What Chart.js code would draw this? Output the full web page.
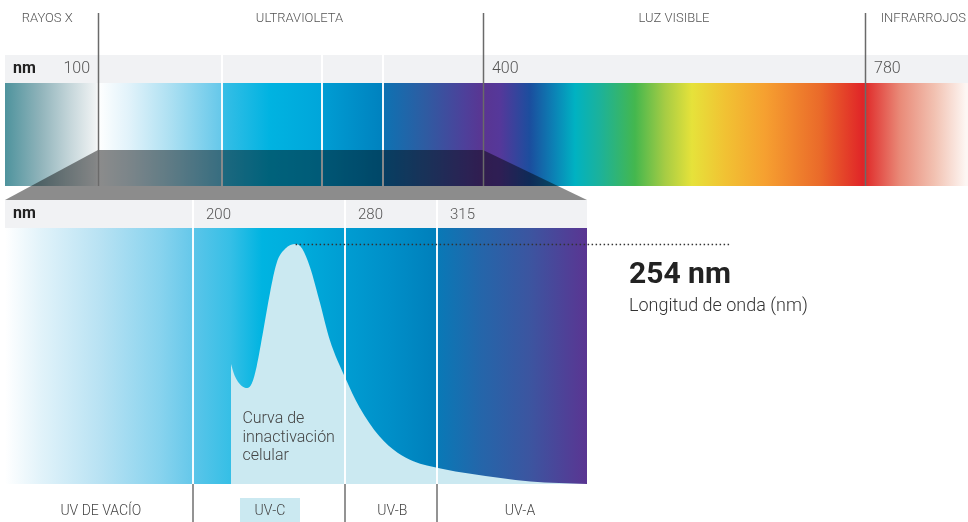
<!DOCTYPE html>
<html>
<head>
<meta charset="utf-8">
<script src="https://cdn.jsdelivr.net/npm/chart.js@4/dist/chart.umd.min.js"></script>
<style>
  html, body { margin: 0; padding: 0; background: #ffffff; }
  #wrap { width: 968px; height: 522px; position: relative; }
</style>
</head>
<body>
<div id="wrap"><canvas id="chart"></canvas></div>
<script>
// ---------------- DATA ----------------
const spectrumRegions = ['RAYOS X', 'ULTRAVIOLETA', 'LUZ VISIBLE', 'INFRARROJOS'];
const spectrumRegionLabelNm = [59, 262, 590, 838];
const spectrumBoundaries = [100, 400, 780];
const uvBoundaries = [200, 280, 315];
const uvBands = ['UV DE VACÍO', 'UV-C', 'UV-B', 'UV-A'];
const uvBandLabelNm = [151, 240.5, 298, 362];
const highlightBand = 'UV-C';
// cell inactivation curve (relative effectiveness, peak = 100)
const curveNm    = [220, 222, 225.5, 228.5, 231, 233.5, 237, 240.5, 244, 248.5, 254, 257.5, 261.5, 267, 272, 280, 285.5, 293, 300, 306, 317, 351, 368, 400];
const curveValue = [50,  45,  41,    40,    42,  49,    64,  79.5,  92,  98,    100, 98,    90.5,  75,  60,  44.5, 32,   20,  13,  9.5, 6.5, 2.5, 1,   0];
const curveLabel = ['Curva de', 'innactivación', 'celular'];
const curveLabelNm = 226;
const peakNm = 254;
const peakValue = 100;
const peakTitle = '254 nm';
const peakCaption = 'Longitud de onda (nm)';
const unitLabel = 'nm';

// ---------------- STYLES ----------------
const topGradientStops = [
  [5,'#4e939d'],[40,'#8fb3ba'],[70,'#c5d6da'],[96,'#f0f3f4'],[98,'#ffffff'],[130,'#e0f2fa'],
  [170,'#ade0f2'],[221,'#66c8ea'],[223,'#36bee6'],[270,'#00b3e1'],[321,'#00a6da'],[323,'#009dd3'],
  [382,'#0082bf'],[384,'#0e72b2'],[425,'#2e5ca2'],[465,'#4e409a'],[483,'#5a3592'],[500,'#55389a'],
  [530,'#1b4e9e'],[555,'#0b84b6'],[575,'#00b2c2'],[600,'#1cb29a'],[635,'#44b74e'],[665,'#a6cc44'],
  [692,'#e6e23a'],[725,'#f1c233'],[765,'#f6a030'],[820,'#ea6a2a'],[863,'#e02428'],[867,'#e0302e'],
  [900,'#e98a78'],[935,'#f2c2b2'],[966,'#fdf6f3']
];
const lowGradientStops = [
  [5,'#ffffff'],[40,'#e2f3fa'],[100,'#b8e2f3'],[160,'#88d3ee'],[192,'#66c8ea'],[194,'#5ac5e9'],
  [230,'#36bfe6'],[262,'#00b4e1'],[300,'#00acdc'],[345,'#009dd2'],[390,'#008fc8'],[437,'#007fbb'],
  [440,'#0a78b6'],[480,'#2466aa'],[530,'#3c55a0'],[587,'#5a3592']
];
const FONT = 'Roboto, "Noto Sans", sans-serif';

// ---------------- PIECEWISE SCALE ----------------
class PiecewiseScale extends Chart.LinearScale {
  _frac(v) {
    const bv = this.options.breakValues, bf = this.options.breakFracs, n = bv.length;
    let i = 0;
    if (v >= bv[n - 1]) i = n - 2;
    else if (v > bv[0]) { while (i < n - 2 && v > bv[i + 1]) i++; }
    return bf[i] + (v - bv[i]) * (bf[i + 1] - bf[i]) / (bv[i + 1] - bv[i]);
  }
  getPixelForValue(v) { return this.left + this._frac(v) * this.width; }
  getValueForPixel(p) {
    const bv = this.options.breakValues, bf = this.options.breakFracs, n = bv.length;
    const f = (p - this.left) / this.width;
    let i = 0;
    if (f >= bf[n - 1]) i = n - 2;
    else if (f > bf[0]) { while (i < n - 2 && f > bf[i + 1]) i++; }
    return bv[i] + (f - bf[i]) * (bv[i + 1] - bv[i]) / (bf[i + 1] - bf[i]);
  }
}
PiecewiseScale.id = 'piecewise';
PiecewiseScale.defaults = {};
Chart.register(PiecewiseScale);

// ---------------- DECORATION PLUGIN ----------------
function line(ctx, x, y0, y1) { ctx.beginPath(); ctx.moveTo(x, y0); ctx.lineTo(x, y1); ctx.stroke(); }

const decor = {
  id: 'decor',
  beforeDatasetsDraw(chart) {
    const { ctx, chartArea: ca, width: W } = chart;
    const xs = chart.scales.x, xt = chart.scales.xTop;
    ctx.save();

    // region titles
    ctx.fillStyle = '#555'; ctx.font = '300 13px ' + FONT;
    ctx.textAlign = 'center'; ctx.textBaseline = 'middle';
    spectrumRegions.forEach((t, i) => ctx.fillText(t, xt.getPixelForValue(spectrumRegionLabelNm[i]), 19));

    // top unit strip
    ctx.fillStyle = '#f1f2f4';
    ctx.fillRect(ca.left, 55, W - ca.left, 28);

    // full spectrum bar
    const g = ctx.createLinearGradient(ca.left, 0, W, 0);
    topGradientStops.forEach(([px, c]) => g.addColorStop(Math.min(1, Math.max(0, (px - ca.left) / (W - ca.left))), c));
    ctx.fillStyle = g;
    ctx.fillRect(ca.left, 83, W - ca.left, 103);

    // light sub-band lines
    ctx.strokeStyle = 'rgba(255,255,255,0.95)'; ctx.lineWidth = 2;
    uvBoundaries.forEach(v => line(ctx, Math.round(xt.getPixelForValue(v)), 55, 186));

    // zoom projection
    ctx.fillStyle = 'rgba(0,0,0,0.45)';
    ctx.beginPath();
    ctx.moveTo(xt.getPixelForValue(100), 150);
    ctx.lineTo(xt.getPixelForValue(400), 150);
    ctx.lineTo(ca.right, 200);
    ctx.lineTo(ca.left, 200);
    ctx.closePath(); ctx.fill();

    // main boundaries
    ctx.strokeStyle = '#6a6a6a'; ctx.lineWidth = 1.5;
    spectrumBoundaries.forEach(v => line(ctx, Math.round(xt.getPixelForValue(v)) + 0.5, 13, 186));

    // top tick labels
    ctx.textBaseline = 'middle';
    ctx.fillStyle = '#222'; ctx.font = 'bold 16px ' + FONT; ctx.textAlign = 'left';
    ctx.fillText(unitLabel, ca.left + 8, 69);
    ctx.fillStyle = '#555'; ctx.font = '300 16px ' + FONT;
    spectrumBoundaries.forEach((v, i) => {
      const x = xt.getPixelForValue(v);
      if (i === 0) { ctx.textAlign = 'right'; ctx.fillText(String(v), x - 8, 69); }
      else { ctx.textAlign = 'left'; ctx.fillText(String(v), x + 9, 69); }
    });

    // lower unit strip
    ctx.fillStyle = '#f1f2f4';
    ctx.fillRect(ca.left, 200, ca.width, ca.top - 200);
    ctx.fillStyle = '#222'; ctx.font = 'bold 16px ' + FONT; ctx.textAlign = 'left';
    ctx.fillText(unitLabel, ca.left + 8, 214);
    ctx.fillStyle = '#555'; ctx.font = '300 15px ' + FONT;
    uvBoundaries.forEach(v => ctx.fillText(String(v), xs.getPixelForValue(v) + 13, 215));

    // lower UV gradient panel
    const g2 = ctx.createLinearGradient(ca.left, 0, ca.right, 0);
    lowGradientStops.forEach(([px, c]) => g2.addColorStop(Math.min(1, Math.max(0, (px - ca.left) / ca.width)), c));
    ctx.fillStyle = g2;
    ctx.fillRect(ca.left, ca.top, ca.width, ca.height);
    ctx.restore();
  },
  afterDatasetsDraw(chart) {
    const { ctx, chartArea: ca, height: H } = chart;
    const xs = chart.scales.x, ys = chart.scales.y;
    ctx.save();

    // band boundaries
    ctx.strokeStyle = 'rgba(255,255,255,0.95)'; ctx.lineWidth = 2;
    uvBoundaries.forEach(v => line(ctx, Math.round(xs.getPixelForValue(v)), 200, ca.bottom));
    ctx.strokeStyle = '#6f6f6f'; ctx.lineWidth = 1.5;
    uvBoundaries.forEach(v => line(ctx, Math.round(xs.getPixelForValue(v)), ca.bottom, H));

    // band labels
    ctx.font = '300 14px ' + FONT; ctx.textAlign = 'center'; ctx.textBaseline = 'middle';
    uvBands.forEach((t, i) => {
      const x = xs.getPixelForValue(uvBandLabelNm[i]);
      if (t === highlightBand) {
        ctx.fillStyle = '#cbe9f1';
        ctx.fillRect(Math.round(x - 30), 498, 60, H - 498);
      }
      ctx.fillStyle = '#444';
      ctx.fillText(t, x, 511);
    });

    // curve label
    ctx.fillStyle = '#444'; ctx.font = '300 16px ' + FONT; ctx.textAlign = 'left'; ctx.textBaseline = 'alphabetic';
    curveLabel.forEach((t, i) => ctx.fillText(t, xs.getPixelForValue(curveLabelNm), 423 + i * 18.5));

    // peak annotation
    const px = xs.getPixelForValue(peakNm), py = Math.round(ys.getPixelForValue(peakValue)) + 0.5;
    const tx = ca.right + 42;
    ctx.font = 'bold 30px ' + FONT;
    const tw = ctx.measureText(peakTitle).width;
    ctx.strokeStyle = '#333'; ctx.lineWidth = 1.5; ctx.setLineDash([1.5, 2.5]);
    ctx.beginPath(); ctx.moveTo(px, py); ctx.lineTo(tx + tw, py); ctx.stroke();
    ctx.setLineDash([]);
    ctx.fillStyle = '#222';
    ctx.fillText(peakTitle, tx, 283);
    ctx.fillStyle = '#333'; ctx.font = '300 18px ' + FONT;
    ctx.fillText(peakCaption, tx, 311);
    ctx.restore();
  }
};

// ---------------- CHART ----------------
new Chart(document.getElementById('chart'), {
  type: 'line',
  data: {
    datasets: [{
      label: 'Curva de innactivación celular',
      data: curveNm.map((x, i) => ({ x: x, y: curveValue[i] })),
      xAxisID: 'x', yAxisID: 'y',
      fill: 'origin',
      backgroundColor: '#cbe9f1',
      borderWidth: 0,
      borderColor: 'rgba(0,0,0,0)',
      pointRadius: 0,
      cubicInterpolationMode: 'monotone'
    }]
  },
  options: {
    responsive: true,
    maintainAspectRatio: false,
    animation: false,
    events: [],
    layout: { padding: { left: 5, right: 381, top: 228, bottom: 38 } },
    plugins: { legend: { display: false }, tooltip: { enabled: false } },
    scales: {
      x: {
        type: 'piecewise', min: 100, max: 400, display: false,
        breakValues: [100, 200, 280, 315, 400],
        breakFracs: [0, 0.3230, 0.5842, 0.7423, 1]
      },
      xTop: {
        type: 'piecewise', axis: 'x', min: 100, max: 780, display: false,
        breakValues: [100, 200, 280, 315, 400, 780],
        breakFracs: [0.1598, 0.3729, 0.5447, 0.6495, 0.8213, 1.4777]
      },
      y: { type: 'linear', min: 0, max: 106.7, display: false }
    }
  },
  plugins: [decor]
});
</script>
</body>
</html>
